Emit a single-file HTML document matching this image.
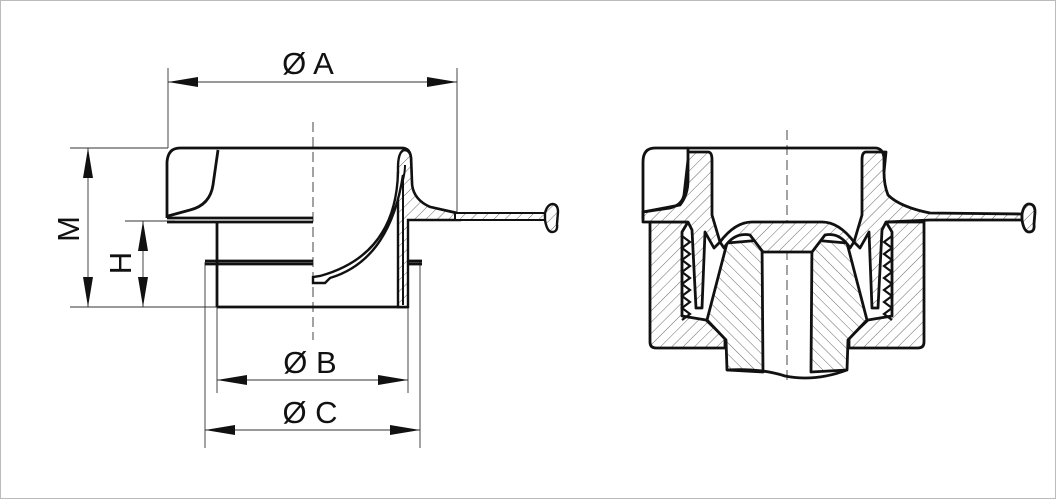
<!DOCTYPE html>
<html><head><meta charset="utf-8"><style>
html,body{margin:0;padding:0;background:#fff;}
svg{display:block}
text{font-family:"Liberation Sans",Arial,sans-serif;fill:#111}
</style></head><body>
<svg width="1057" height="500" viewBox="0 0 1057 500" xmlns="http://www.w3.org/2000/svg">
<defs>
<pattern id="h" width="8" height="8" patternUnits="userSpaceOnUse" patternTransform="rotate(45)">
<rect width="8" height="8" fill="#fff"/><line x1="0" y1="0" x2="0" y2="8" stroke="#444" stroke-width="0.8"/></pattern>
<pattern id="h2" width="8" height="8" patternUnits="userSpaceOnUse" patternTransform="rotate(-45)">
<rect width="8" height="8" fill="#fff"/><line x1="0" y1="0" x2="0" y2="8" stroke="#444" stroke-width="0.8"/></pattern>
<marker id="a" viewBox="0 0 30 10" refX="30" refY="5" markerWidth="30" markerHeight="10" markerUnits="userSpaceOnUse" orient="auto-start-reverse"><path d="M0,0 L30,5 L0,10 z" fill="#111"/></marker>
</defs>
<rect x="0.5" y="0.5" width="1055" height="498" fill="#fff" stroke="#bbb" stroke-width="1"/>

<g stroke="#333" stroke-width="0.9" fill="none">
<line x1="168" y1="68" x2="168" y2="148"/>
<line x1="457" y1="68" x2="457" y2="215"/>
<line x1="70" y1="148" x2="168" y2="148"/>
<line x1="70" y1="307" x2="217" y2="307"/>
<line x1="125" y1="221" x2="175" y2="221"/>
<line x1="217" y1="307" x2="217" y2="393"/>
<line x1="408" y1="307" x2="408" y2="393"/>
<line x1="205" y1="262" x2="205" y2="448"/>
<line x1="420" y1="262" x2="420" y2="448"/>
<line x1="168" y1="82" x2="457" y2="82" marker-start="url(#a)" marker-end="url(#a)"/>
<line x1="88" y1="148" x2="88" y2="307" marker-start="url(#a)" marker-end="url(#a)"/>
<line x1="143" y1="221" x2="143" y2="307" marker-start="url(#a)" marker-end="url(#a)"/>
<line x1="217" y1="380" x2="408" y2="380" marker-start="url(#a)" marker-end="url(#a)"/>
<line x1="205" y1="430" x2="420" y2="430" marker-start="url(#a)" marker-end="url(#a)"/>
<line x1="313" y1="122" x2="313" y2="340" stroke-dasharray="10,5"/>
<line x1="787" y1="130" x2="787" y2="385" stroke-dasharray="10,5"/>
</g>
<text x="308" y="74" font-size="31" text-anchor="middle">Ø A</text>
<text x="310" y="373" font-size="31" text-anchor="middle">Ø B</text>
<text x="310" y="423" font-size="31" text-anchor="middle">Ø C</text>
<text transform="translate(79,229) rotate(-90)" font-size="31" text-anchor="middle">M</text>
<text transform="translate(131,263) rotate(-90)" font-size="31" text-anchor="middle">H</text>

<!-- LEFT DRAWING -->
<g stroke="#111" stroke-width="2.8" fill="none" stroke-linejoin="round">
<path d="M313,148 L402,148 Q410,148 411,158 L412,185 Q414,200 430,207 L457,213"/>
<path d="M313,148 L180,148 Q168,148 167,162 L167,218"/>
<path d="M218,150 L213,185 Q210,205 190,210 L168,216"/>
<line x1="167" y1="218" x2="313" y2="218"/>
<line x1="167" y1="222" x2="313" y2="222"/>
<line x1="217" y1="222" x2="217" y2="307"/>
<line x1="217" y1="307" x2="408" y2="307"/>
<line x1="205" y1="261" x2="313" y2="261"/>
<line x1="205" y1="264" x2="313" y2="264"/>
<line x1="408" y1="261" x2="422" y2="261"/>
<line x1="408" y1="264" x2="422" y2="264"/>
</g>
<path d="M398,168 Q398,152 404,150 Q411,150 411,160 L412,185 Q414,200 430,207 L460,214 L460,220 L408,220 L408,307 L398,307 Z" fill="url(#h)" stroke="#111" stroke-width="2.4"/>
<path d="M405,165 Q405,172 403,180 L403,305" stroke="#111" stroke-width="2" fill="none"/>
<path d="M398,172 Q396,255 320,276 L313,277 L313,283 L325,283 L330,278 Q390,260 403,175" fill="#fff" stroke="#111" stroke-width="2.4"/>
<path d="M455,213 L545,213 L545,220 L455,220 Z" fill="url(#h)" stroke="#111" stroke-width="2"/>
<path d="M545,213 Q547,205 552,204 Q558,204 558,212 L557,224 Q558,232 552,232 Q547,232 545,220 Z" fill="url(#h)" stroke="#111" stroke-width="2.4"/>

<!-- RIGHT DRAWING -->
<g stroke="#111" stroke-width="2.8" stroke-linejoin="round">
<path d="M650,222 L688,222 L682,232 L682,316 L706,320 L725,338 L725,348 L656,348 Q650,348 650,342 Z" fill="url(#h)"/>
<path d="M924,222 L886,222 L892,232 L892,316 L868,320 L849,338 L849,348 L918,348 Q924,348 924,342 Z" fill="url(#h)"/>
<path d="M727,243 L762,240 L763,372 L727,370 L726,340 L707,320 Z" fill="url(#h2)"/>
<path d="M847,243 L812,240 L811,372 L847,370 L848,340 L867,320 Z" fill="url(#h2)"/>
<path d="M727,370 Q760,368 785,376 Q815,382 847,370" fill="none"/>
<path d="M720,242 Q735,222 752,222 L822,222 Q839,222 854,242 L850,248 Q840,232 825,235 L812,252 L763,252 L750,235 Q734,232 724,248 Z" fill="url(#h)"/>
<path d="M688,152 L708,152 Q712,152 712,160 L712,215 L720,242 L714,248 L705,232 L702,308 L696,308 L692,230 L688,222 L643,222 L643,212 L680,205 Q688,195 688,180 Z" fill="url(#h)"/>
<path d="M886,152 L866,152 Q862,152 862,160 L862,215 L854,242 L860,248 L869,232 L872,308 L878,308 L882,230 L886,222 L930,220 L1022,220 L1022,214 L930,213 Q900,207 888,195 Q884,185 884,172 Z" fill="url(#h)"/>
<path d="M1022,214 Q1024,204 1029,204 Q1035,204 1035,212 L1034,224 Q1035,232 1029,232 Q1024,232 1022,220 Z" fill="url(#h)"/>
<path d="M688,148 L655,148 Q643,148 643,162 L643,219" fill="none"/>
<path d="M688,152 L688,148 L875,148 Q883,148 884,158 L884,172" fill="none"/>
<path d="M688,160 L684,195 Q682,205 670,208 L643,212" fill="none"/>
</g>
<path d="M682,236 l8,6 l-8,6 l8,6 l-8,6 l8,6 l-8,6 l8,6 l-8,6 l8,6 l-8,6 l8,6 l-8,6 l8,6 l-8,6" fill="none" stroke="#111" stroke-width="2.2"/>
<path d="M892,236 l-8,6 l8,6 l-8,6 l8,6 l-8,6 l8,6 l-8,6 l8,6 l-8,6 l8,6 l-8,6 l8,6 l-8,6 l8,6" fill="none" stroke="#111" stroke-width="2.2"/>
</svg>
</body></html>
